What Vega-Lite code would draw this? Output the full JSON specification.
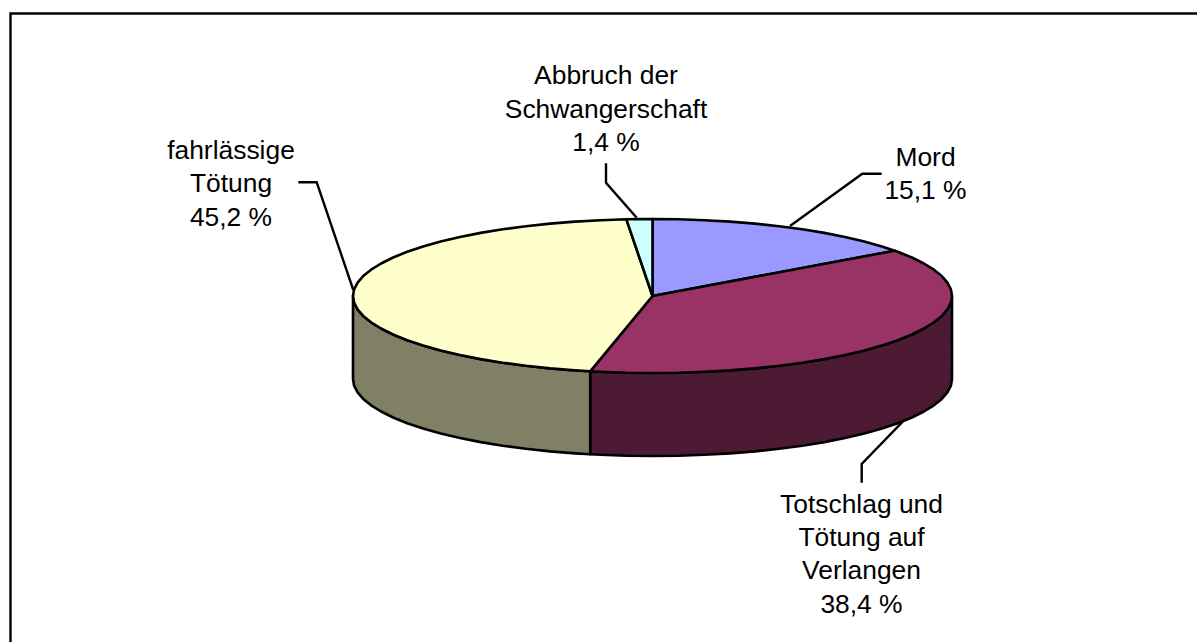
{"$schema":"https://vega.github.io/schema/vega-lite/v6.json","width":1197,"height":642,"padding":0,"autosize":{"type":"none"},"background":"white","view":{"stroke":null},
"config":{"font":"Liberation Sans"},
"layer":[
{"data":{"values":[
{"p":"w1","i":0,"x":299.5,"y":0},{"p":"w1","i":1,"x":298.4,"y":-6.7},{"p":"w1","i":2,"x":294.9,"y":-13.4},{"p":"w1","i":3,"x":289.3,"y":-19.9},{"p":"w1","i":4,"x":281.4,"y":-26.3},{"p":"w1","i":5,"x":271.4,"y":-32.5},{"p":"w1","i":6,"x":259.4,"y":-38.5},{"p":"w1","i":7,"x":245.3,"y":-44.2},{"p":"w1","i":8,"x":229.4,"y":-49.5},{"p":"w1","i":9,"x":211.8,"y":-54.4},{"p":"w1","i":10,"x":192.5,"y":-59},{"p":"w1","i":11,"x":171.8,"y":-63.1},{"p":"w1","i":12,"x":149.8,"y":-66.7},{"p":"w1","i":13,"x":126.6,"y":-69.8},{"p":"w1","i":14,"x":102.4,"y":-72.4},{"p":"w1","i":15,"x":77.5,"y":-74.4},{"p":"w1","i":16,"x":52,"y":-75.8},{"p":"w1","i":17,"x":26.1,"y":-76.7},{"p":"w1","i":18,"x":0,"y":-77},{"p":"w1","i":19,"x":-26.1,"y":-76.7},{"p":"w1","i":20,"x":-52,"y":-75.8},{"p":"w1","i":21,"x":-62.3,"y":-75.3},
{"p":"w1","i":22,"x":-62.3,"y":-158.3},{"p":"w1","i":23,"x":-52,"y":-158.8},{"p":"w1","i":24,"x":-26.1,"y":-159.7},{"p":"w1","i":25,"x":0,"y":-160},{"p":"w1","i":26,"x":26.1,"y":-159.7},{"p":"w1","i":27,"x":52,"y":-158.8},{"p":"w1","i":28,"x":77.5,"y":-157.4},{"p":"w1","i":29,"x":102.4,"y":-155.4},{"p":"w1","i":30,"x":126.6,"y":-152.8},{"p":"w1","i":31,"x":149.8,"y":-149.7},{"p":"w1","i":32,"x":171.8,"y":-146.1},{"p":"w1","i":33,"x":192.5,"y":-142},{"p":"w1","i":34,"x":211.8,"y":-137.4},{"p":"w1","i":35,"x":229.4,"y":-132.5},{"p":"w1","i":36,"x":245.3,"y":-127.2},{"p":"w1","i":37,"x":259.4,"y":-121.5},{"p":"w1","i":38,"x":271.4,"y":-115.5},{"p":"w1","i":39,"x":281.4,"y":-109.3},{"p":"w1","i":40,"x":289.3,"y":-102.9},{"p":"w1","i":41,"x":294.9,"y":-96.4},{"p":"w1","i":42,"x":298.4,"y":-89.7},{"p":"w1","i":43,"x":299.5,"y":-83},{"p":"w1","i":44,"x":299.5,"y":0},
{"p":"w2","i":0,"x":-62.3,"y":-75.3},{"p":"w2","i":1,"x":-77.5,"y":-74.4},{"p":"w2","i":2,"x":-102.4,"y":-72.4},{"p":"w2","i":3,"x":-126.6,"y":-69.8},{"p":"w2","i":4,"x":-149.8,"y":-66.7},{"p":"w2","i":5,"x":-171.8,"y":-63.1},{"p":"w2","i":6,"x":-192.5,"y":-59},{"p":"w2","i":7,"x":-211.8,"y":-54.4},{"p":"w2","i":8,"x":-229.4,"y":-49.5},{"p":"w2","i":9,"x":-245.3,"y":-44.2},{"p":"w2","i":10,"x":-259.4,"y":-38.5},{"p":"w2","i":11,"x":-271.4,"y":-32.5},{"p":"w2","i":12,"x":-281.4,"y":-26.3},{"p":"w2","i":13,"x":-289.3,"y":-19.9},{"p":"w2","i":14,"x":-294.9,"y":-13.4},{"p":"w2","i":15,"x":-298.4,"y":-6.7},{"p":"w2","i":16,"x":-299.5,"y":0},
{"p":"w2","i":17,"x":-299.5,"y":-83},{"p":"w2","i":18,"x":-298.4,"y":-89.7},{"p":"w2","i":19,"x":-294.9,"y":-96.4},{"p":"w2","i":20,"x":-289.3,"y":-102.9},{"p":"w2","i":21,"x":-281.4,"y":-109.3},{"p":"w2","i":22,"x":-271.4,"y":-115.5},{"p":"w2","i":23,"x":-259.4,"y":-121.5},{"p":"w2","i":24,"x":-245.3,"y":-127.2},{"p":"w2","i":25,"x":-229.4,"y":-132.5},{"p":"w2","i":26,"x":-211.8,"y":-137.4},{"p":"w2","i":27,"x":-192.5,"y":-142},{"p":"w2","i":28,"x":-171.8,"y":-146.1},{"p":"w2","i":29,"x":-149.8,"y":-149.7},{"p":"w2","i":30,"x":-126.6,"y":-152.8},{"p":"w2","i":31,"x":-102.4,"y":-155.4},{"p":"w2","i":32,"x":-77.5,"y":-157.4},{"p":"w2","i":33,"x":-62.3,"y":-158.3},{"p":"w2","i":34,"x":-62.3,"y":-75.3},
{"p":"Mord","i":0,"x":0,"y":0},{"p":"Mord","i":1,"x":0,"y":77},{"p":"Mord","i":2,"x":26.1,"y":76.7},{"p":"Mord","i":3,"x":52,"y":75.8},{"p":"Mord","i":4,"x":77.5,"y":74.4},{"p":"Mord","i":5,"x":102.4,"y":72.4},{"p":"Mord","i":6,"x":126.6,"y":69.8},{"p":"Mord","i":7,"x":149.8,"y":66.7},{"p":"Mord","i":8,"x":171.8,"y":63.1},{"p":"Mord","i":9,"x":192.5,"y":59},{"p":"Mord","i":10,"x":211.8,"y":54.4},{"p":"Mord","i":11,"x":229.4,"y":49.5},{"p":"Mord","i":12,"x":242.3,"y":45.3},{"p":"Mord","i":13,"x":0,"y":0},
{"p":"Totschlag","i":0,"x":0,"y":0},{"p":"Totschlag","i":1,"x":242.3,"y":45.3},{"p":"Totschlag","i":2,"x":245.3,"y":44.2},{"p":"Totschlag","i":3,"x":259.4,"y":38.5},{"p":"Totschlag","i":4,"x":271.4,"y":32.5},{"p":"Totschlag","i":5,"x":281.4,"y":26.3},{"p":"Totschlag","i":6,"x":289.3,"y":19.9},{"p":"Totschlag","i":7,"x":294.9,"y":13.4},{"p":"Totschlag","i":8,"x":298.4,"y":6.7},{"p":"Totschlag","i":9,"x":299.5,"y":0},{"p":"Totschlag","i":10,"x":298.4,"y":-6.7},{"p":"Totschlag","i":11,"x":294.9,"y":-13.4},{"p":"Totschlag","i":12,"x":289.3,"y":-19.9},{"p":"Totschlag","i":13,"x":281.4,"y":-26.3},{"p":"Totschlag","i":14,"x":271.4,"y":-32.5},{"p":"Totschlag","i":15,"x":259.4,"y":-38.5},{"p":"Totschlag","i":16,"x":245.3,"y":-44.2},{"p":"Totschlag","i":17,"x":229.4,"y":-49.5},{"p":"Totschlag","i":18,"x":211.8,"y":-54.4},{"p":"Totschlag","i":19,"x":192.5,"y":-59},{"p":"Totschlag","i":20,"x":171.8,"y":-63.1},{"p":"Totschlag","i":21,"x":149.8,"y":-66.7},{"p":"Totschlag","i":22,"x":126.6,"y":-69.8},{"p":"Totschlag","i":23,"x":102.4,"y":-72.4},{"p":"Totschlag","i":24,"x":77.5,"y":-74.4},{"p":"Totschlag","i":25,"x":52,"y":-75.8},{"p":"Totschlag","i":26,"x":26.1,"y":-76.7},{"p":"Totschlag","i":27,"x":0,"y":-77},{"p":"Totschlag","i":28,"x":-26.1,"y":-76.7},{"p":"Totschlag","i":29,"x":-52,"y":-75.8},{"p":"Totschlag","i":30,"x":-62.3,"y":-75.3},{"p":"Totschlag","i":31,"x":0,"y":0},
{"p":"fahrl","i":0,"x":0,"y":0},{"p":"fahrl","i":1,"x":-62.3,"y":-75.3},{"p":"fahrl","i":2,"x":-77.5,"y":-74.4},{"p":"fahrl","i":3,"x":-102.4,"y":-72.4},{"p":"fahrl","i":4,"x":-126.6,"y":-69.8},{"p":"fahrl","i":5,"x":-149.8,"y":-66.7},{"p":"fahrl","i":6,"x":-171.8,"y":-63.1},{"p":"fahrl","i":7,"x":-192.5,"y":-59},{"p":"fahrl","i":8,"x":-211.8,"y":-54.4},{"p":"fahrl","i":9,"x":-229.4,"y":-49.5},{"p":"fahrl","i":10,"x":-245.3,"y":-44.2},{"p":"fahrl","i":11,"x":-259.4,"y":-38.5},{"p":"fahrl","i":12,"x":-271.4,"y":-32.5},{"p":"fahrl","i":13,"x":-281.4,"y":-26.3},{"p":"fahrl","i":14,"x":-289.3,"y":-19.9},{"p":"fahrl","i":15,"x":-294.9,"y":-13.4},{"p":"fahrl","i":16,"x":-298.4,"y":-6.7},{"p":"fahrl","i":17,"x":-299.5,"y":0},{"p":"fahrl","i":18,"x":-298.4,"y":6.7},{"p":"fahrl","i":19,"x":-294.9,"y":13.4},{"p":"fahrl","i":20,"x":-289.3,"y":19.9},{"p":"fahrl","i":21,"x":-281.4,"y":26.3},{"p":"fahrl","i":22,"x":-271.4,"y":32.5},{"p":"fahrl","i":23,"x":-259.4,"y":38.5},{"p":"fahrl","i":24,"x":-245.3,"y":44.2},{"p":"fahrl","i":25,"x":-229.4,"y":49.5},{"p":"fahrl","i":26,"x":-211.8,"y":54.4},{"p":"fahrl","i":27,"x":-192.5,"y":59},{"p":"fahrl","i":28,"x":-171.8,"y":63.1},{"p":"fahrl","i":29,"x":-149.8,"y":66.7},{"p":"fahrl","i":30,"x":-126.6,"y":69.8},{"p":"fahrl","i":31,"x":-102.4,"y":72.4},{"p":"fahrl","i":32,"x":-77.5,"y":74.4},{"p":"fahrl","i":33,"x":-52,"y":75.8},{"p":"fahrl","i":34,"x":-26.1,"y":76.7},{"p":"fahrl","i":35,"x":0,"y":0},
{"p":"Abbruch","i":0,"x":0,"y":0},{"p":"Abbruch","i":1,"x":-26.1,"y":76.7},{"p":"Abbruch","i":2,"x":-13,"y":76.9},{"p":"Abbruch","i":3,"x":0,"y":77},{"p":"Abbruch","i":4,"x":0,"y":0}
]},
"mark":{"type":"line","stroke":"black","strokeWidth":2.6,"strokeJoin":"round","clip":false},
"encoding":{
"x":{"field":"x","type":"quantitative","axis":null,"scale":{"domain":[-652.5,544.5],"nice":false,"zero":false}},
"y":{"field":"y","type":"quantitative","axis":null,"scale":{"domain":[-346,296],"nice":false,"zero":false}},
"order":{"field":"i","type":"quantitative"},
"detail":{"field":"p"},
"fill":{"field":"p","type":"nominal","legend":null,"scale":{"domain":["w1","w2","Mord","Totschlag","fahrl","Abbruch"],"range":["#4D1A33","#808066","#9999FF","#993366","#FFFFCC","#CCFFFF"]}}
}},
{"data":{"values":[
{"l":"frame","i":0,"x":-642,"y":-346},{"l":"frame","i":1,"x":-642,"y":282.5},{"l":"frame","i":2,"x":544.5,"y":282.5},
{"l":"a","i":0,"x":-46.5,"y":132.7},{"l":"a","i":1,"x":-46.5,"y":113.3},{"l":"a","i":2,"x":-15.8,"y":78.3},
{"l":"m","i":0,"x":229.2,"y":122.3},{"l":"m","i":1,"x":209.8,"y":122.3},{"l":"m","i":2,"x":137.5,"y":70},
{"l":"f","i":0,"x":-354.2,"y":113.7},{"l":"f","i":1,"x":-335.8,"y":113.7},{"l":"f","i":2,"x":-299.2,"y":6},
{"l":"t","i":0,"x":209.2,"y":-186.7},{"l":"t","i":1,"x":209.2,"y":-168},{"l":"t","i":2,"x":250.2,"y":-125.7}
]},
"mark":{"type":"line","stroke":"black","strokeWidth":2.4,"clip":false},
"encoding":{
"x":{"field":"x","type":"quantitative","axis":null,"scale":{"domain":[-652.5,544.5],"nice":false,"zero":false}},
"y":{"field":"y","type":"quantitative","axis":null,"scale":{"domain":[-346,296],"nice":false,"zero":false}},
"order":{"field":"i","type":"quantitative"},
"detail":{"field":"l"}
}},
{"data":{"values":[
{"t":"Abbruch der\nSchwangerschaft\n1,4 %","x":-46.5,"y":211.7},
{"t":"Mord\n15,1 %","x":273,"y":130},
{"t":"fahrlässige\nTötung\n45,2 %","x":-421.5,"y":137},
{"t":"Totschlag und\nTötung auf\nVerlangen\n38,4 %","x":209,"y":-216.7}
]},
"mark":{"type":"text","font":"Liberation Sans","fontSize":26.4,"lineHeight":33.4,"lineBreak":"\n","align":"center","baseline":"alphabetic","color":"black"},
"encoding":{
"x":{"field":"x","type":"quantitative","axis":null,"scale":{"domain":[-652.5,544.5],"nice":false,"zero":false}},
"y":{"field":"y","type":"quantitative","axis":null,"scale":{"domain":[-346,296],"nice":false,"zero":false}},
"text":{"field":"t"}
}}
]}
